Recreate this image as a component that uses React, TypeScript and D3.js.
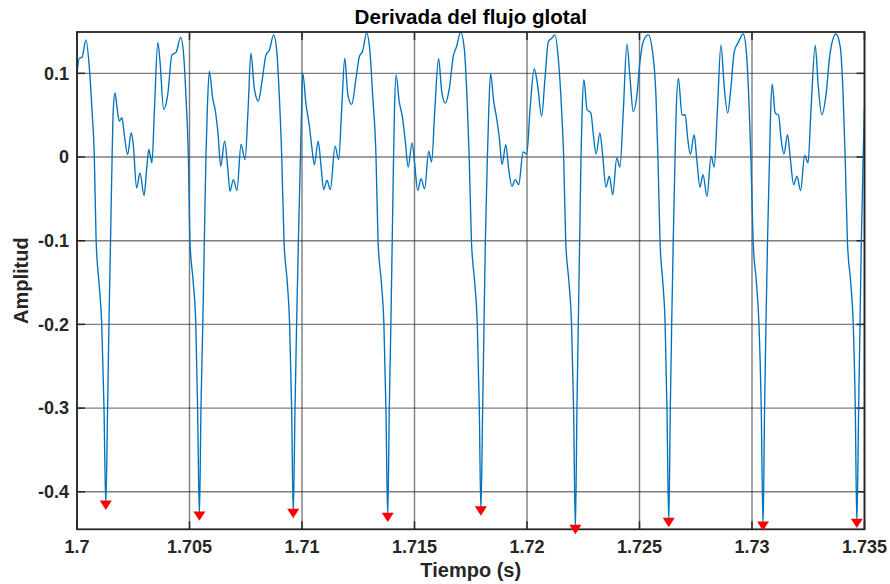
import * as d3 from 'd3';

// derivada del flujo glotal, [tiempo (s), amplitud]
const tramo1: [number, number][] = [
    [1.7, 0.1], [1.7001, 0.118], [1.70022, 0.119], [1.7004, 0.14], [1.70055, 0.106], [1.70067, 0.055],
    [1.70077, 0.0], [1.70085, -0.1], [1.70098, -0.151], [1.7011, -0.2], [1.7012, -0.3], [1.70128, -0.416],
    [1.70136, -0.3], [1.70142, -0.2], [1.70149, -0.1], [1.70156, 0.0], [1.70161, 0.055], [1.70169, 0.0765],
    [1.70178, 0.059], [1.70188, 0.043], [1.702, 0.047], [1.7021, 0.027], [1.70225, 0.003], [1.70241, 0.029],
    [1.7025, 0.015], [1.70265, -0.037], [1.7028, -0.019], [1.70298, -0.046], [1.7031, -0.013], [1.70319, 0.009],
    [1.70333, -0.007], [1.70344, 0.055], [1.70359, 0.137], [1.70369, 0.114], [1.70385, 0.057], [1.70403, 0.074],
    [1.70422, 0.122], [1.7044, 0.125], [1.70461, 0.143], [1.70474, 0.122], [1.70484, 0.074], [1.70495, 0.0],
];
const tramo2: [number, number][] = [
    [1.70502, -0.1], [1.70517, -0.151], [1.70528, -0.2], [1.70536, -0.3], [1.70544, -0.429], [1.70551, -0.3],
    [1.70559, -0.2], [1.70566, -0.1], [1.70573, 0.0], [1.70579, 0.055], [1.70588, 0.1025], [1.70603, 0.0705],
    [1.70615, 0.055], [1.70627, 0.027], [1.70639, -0.011], [1.70656, 0.019], [1.7067, -0.013], [1.7068, -0.041],
    [1.70695, -0.027], [1.70711, -0.04], [1.70729, 0.015], [1.70747, -0.003], [1.7076, 0.055], [1.70773, 0.124],
    [1.70788, 0.082], [1.70806, 0.067], [1.70822, 0.09], [1.7084, 0.122], [1.70855, 0.128], [1.70874, 0.146],
    [1.70888, 0.126], [1.70899, 0.074], [1.7091, 0.0],
];
const tramo3: [number, number][] = [
    [1.7092, -0.1], [1.70935, -0.151], [1.70945, -0.2], [1.70954, -0.3], [1.70961, -0.426], [1.70969, -0.3],
    [1.70976, -0.2], [1.70984, -0.1], [1.70993, 0.0], [1.70998, 0.055], [1.71003, 0.1003], [1.71018, 0.0625],
    [1.71032, 0.0386], [1.71044, 0.011], [1.71055, -0.009], [1.71072, 0.019], [1.71084, -0.009], [1.71096, -0.039],
    [1.71111, -0.028], [1.71126, -0.039], [1.71147, 0.013], [1.71163, -0.003], [1.71176, 0.055], [1.7119, 0.118],
    [1.71204, 0.074], [1.71221, 0.063], [1.7124, 0.094], [1.71255, 0.12], [1.7127, 0.127], [1.71287, 0.148],
    [1.71302, 0.126], [1.71314, 0.074], [1.71329, 0.0],
];
const tramo4: [number, number][] = [
    [1.71338, -0.1], [1.71353, -0.151], [1.71364, -0.2], [1.71373, -0.3], [1.71381, -0.4305], [1.71388, -0.3],
    [1.71395, -0.2], [1.71401, -0.1], [1.71407, 0.0], [1.71411, 0.055], [1.71418, 0.098], [1.71432, 0.0665],
    [1.71447, 0.0466], [1.71459, 0.019], [1.71472, -0.012], [1.71489, 0.017], [1.71501, -0.009], [1.71514, -0.04],
    [1.71529, -0.026], [1.71545, -0.038], [1.71563, 0.007], [1.71576, -0.006], [1.7159, 0.055], [1.71607, 0.1175],
    [1.71621, 0.0785], [1.71637, 0.0645], [1.71655, 0.0824], [1.71672, 0.12], [1.71687, 0.132], [1.71705, 0.1493],
    [1.71721, 0.13], [1.71733, 0.074], [1.71743, 0.0],
];
const tramo5: [number, number][] = [
    [1.71753, -0.1], [1.71768, -0.151], [1.71779, -0.2], [1.71788, -0.3], [1.71795, -0.423], [1.71803, -0.3],
    [1.71809, -0.2], [1.71815, -0.1], [1.71824, 0.0], [1.7183, 0.055], [1.71838, 0.1], [1.71852, 0.0665],
    [1.71865, 0.0466], [1.71877, 0.0227], [1.71889, -0.009], [1.71906, 0.0147], [1.71918, -0.013], [1.71933, -0.035],
    [1.71948, -0.027], [1.71963, -0.033], [1.71983, 0.006], [1.71999, 0.0036], [1.72013, 0.055], [1.72032, 0.1055],
    [1.72047, 0.0864], [1.72065, 0.0486], [1.7208, 0.094], [1.72095, 0.138], [1.7211, 0.142], [1.72124, 0.146],
    [1.72139, 0.118], [1.72154, 0.055], [1.72163, 0.0],
];
const tramo6: [number, number][] = [
    [1.72172, -0.1], [1.72187, -0.151], [1.72198, -0.2], [1.72207, -0.3], [1.72215, -0.445], [1.72222, -0.3],
    [1.72228, -0.2], [1.72234, -0.1], [1.7224, 0.0], [1.72245, 0.055], [1.72253, 0.0924], [1.72267, 0.0565],
    [1.72284, 0.0526], [1.72295, 0.0266], [1.72307, 0.0036], [1.72324, 0.0287], [1.72336, 0.0028], [1.72351, -0.036],
    [1.72366, -0.023], [1.72381, -0.045], [1.72399, -0.001], [1.72413, -0.012], [1.72428, 0.055], [1.72444, 0.135],
    [1.72458, 0.094], [1.72472, 0.054], [1.72487, 0.0705], [1.72502, 0.114], [1.72517, 0.138], [1.72539, 0.146],
    [1.72558, 0.126], [1.72573, 0.074], [1.72582, 0.0],
];
const tramo7: [number, number][] = [
    [1.72591, -0.1], [1.72604, -0.151], [1.72614, -0.2], [1.72622, -0.3], [1.7263, -0.4367], [1.72637, -0.3],
    [1.72643, -0.2], [1.7265, -0.1], [1.72658, 0.0], [1.72663, 0.055], [1.72673, 0.094], [1.72689, 0.05],
    [1.72703, 0.0505], [1.72714, 0.0227], [1.72726, 0.003], [1.72743, 0.0266], [1.72754, -0.001], [1.72769, -0.036],
    [1.72782, -0.021], [1.728, -0.047], [1.72818, 0.001], [1.72832, -0.012], [1.72846, 0.055], [1.72862, 0.134],
    [1.72877, 0.082], [1.72892, 0.0526], [1.72906, 0.082], [1.72921, 0.126], [1.72939, 0.137], [1.72961, 0.147],
    [1.72976, 0.122], [1.72988, 0.055], [1.72995, 0.0],
];
const tramo8: [number, number][] = [
    [1.73005, -0.1], [1.7302, -0.151], [1.73031, -0.2], [1.73041, -0.3], [1.73049, -0.441], [1.73056, -0.3],
    [1.73062, -0.2], [1.73069, -0.1], [1.73078, 0.0], [1.73083, 0.055], [1.7309, 0.087], [1.73103, 0.0526],
    [1.73118, 0.05], [1.73129, 0.0227], [1.73142, 0.0036], [1.73158, 0.0266], [1.7317, -0.001], [1.73185, -0.033],
    [1.732, -0.023], [1.73216, -0.04], [1.73234, 0.002], [1.73249, -0.007], [1.73262, 0.055], [1.73281, 0.1334],
    [1.73294, 0.0864], [1.7331, 0.0505], [1.73329, 0.0745], [1.73346, 0.122], [1.73373, 0.147], [1.73392, 0.132],
    [1.73405, 0.074], [1.73414, 0.0],
];
const tramo9: [number, number][] = [
    [1.73424, -0.1], [1.73439, -0.151], [1.7345, -0.2], [1.73459, -0.3], [1.73466, -0.4377], [1.73474, -0.3],
    [1.7348, -0.2], [1.73486, -0.1], [1.73494, 0.0], [1.735, 0.06],
];

// instantes de cierre glotal (minimos marcados)
const minTiempo = [1.70128, 1.70544, 1.70961, 1.71381, 1.71795, 1.72215, 1.7263, 1.73049, 1.73466];
const minAmplitud = [-0.416, -0.429, -0.426, -0.4305, -0.423, -0.445, -0.4367, -0.441, -0.4377];

const xTicks = [1.7, 1.705, 1.71, 1.715, 1.72, 1.725, 1.73, 1.735];
const xTickLabels = ['1.7', '1.705', '1.71', '1.715', '1.72', '1.725', '1.73', '1.735'];
const yTicks = [-0.4, -0.3, -0.2, -0.1, 0, 0.1];
const yTickLabels = ['-0.4', '-0.3', '-0.2', '-0.1', '0', '0.1'];

export default function App() {
    const margin = { top: 32, right: 25.5, bottom: 54.7, left: 77 },
        W = 890,
        H = 584,
        width = W - margin.left - margin.right,
        height = H - margin.top - margin.bottom;

    const serie = [...tramo1, ...tramo2, ...tramo3, ...tramo4, ...tramo5, ...tramo6, ...tramo7, ...tramo8, ...tramo9];

    const x = d3.scaleLinear().domain([1.7, 1.735]).range([0, width]);
    const y = d3.scaleLinear().domain([-0.4448, 0.1494]).range([height, 0]);

    const line = d3
        .line<[number, number]>()
        .x((d) => x(d[0]))
        .y((d) => y(d[1]))
        .curve(d3.curveMonotoneX);

    const font = '"Liberation Sans", Arial, Helvetica, sans-serif';
    const ink = '#262626';

    return (
        <svg width={W} height={H} style={{ position: 'absolute', left: 0, top: 0, background: '#fff' }} fontFamily={font}>
            <text x={margin.left + width / 2} y={24} textAnchor="middle" fontSize={20.6} fontWeight="bold" fill="#000">
                Derivada del flujo glotal
            </text>
            <g transform={`translate(${margin.left},${margin.top})`}>
                {/* rejilla */}
                {xTicks.map((t) => (
                    <line key={'gx' + t} x1={x(t)} x2={x(t)} y1={0} y2={height} stroke={ink} strokeOpacity={0.6} strokeWidth={1.4} />
                ))}
                {yTicks.map((t) => (
                    <line key={'gy' + t} x1={0} x2={width} y1={y(t)} y2={y(t)} stroke={ink} strokeOpacity={0.6} strokeWidth={1.4} />
                ))}
                {/* marcas de los ejes, hacia dentro */}
                {xTicks.map((t) => (
                    <g key={'tx' + t} stroke={ink} strokeWidth={1.5}>
                        <line x1={x(t)} x2={x(t)} y1={height} y2={height - 8} />
                        <line x1={x(t)} x2={x(t)} y1={0} y2={8} />
                    </g>
                ))}
                {yTicks.map((t) => (
                    <g key={'ty' + t} stroke={ink} strokeWidth={1.5}>
                        <line x1={0} x2={8} y1={y(t)} y2={y(t)} />
                        <line x1={width} x2={width - 8} y1={y(t)} y2={y(t)} />
                    </g>
                ))}
                <path d={line(serie) ?? ''} fill="none" stroke="#0072BD" strokeWidth={1.35} />
                <rect x={0} y={0} width={width} height={height} fill="none" stroke={ink} strokeWidth={1.8} />
                {minTiempo.map((t, i) => (
                    <path
                        key={'m' + i}
                        transform={`translate(${x(t)},${y(minAmplitud[i])})`}
                        d="M-6,-4.7L6,-4.7L0,4.7Z"
                        fill="#FF0000"
                    />
                ))}
                {xTicks.map((t, i) => (
                    <text key={'lx' + t} x={x(t)} y={height + 24} textAnchor="middle" fontSize={18} fontWeight="bold" fill={ink}>
                        {xTickLabels[i]}
                    </text>
                ))}
                {yTicks.map((t, i) => (
                    <text key={'ly' + t} x={-8} y={y(t)} dy="0.35em" textAnchor="end" fontSize={18} fontWeight="bold" fill={ink}>
                        {yTickLabels[i]}
                    </text>
                ))}
                <text x={width / 2} y={height + 48} textAnchor="middle" fontSize={20} fontWeight="bold" fill={ink}>
                    Tiempo (s)
                </text>
                <text
                    transform={`translate(${-49},${height / 2}) rotate(-90)`}
                    textAnchor="middle"
                    fontSize={20}
                    fontWeight="bold"
                    fill={ink}
                >
                    Amplitud
                </text>
            </g>
        </svg>
    );
}
